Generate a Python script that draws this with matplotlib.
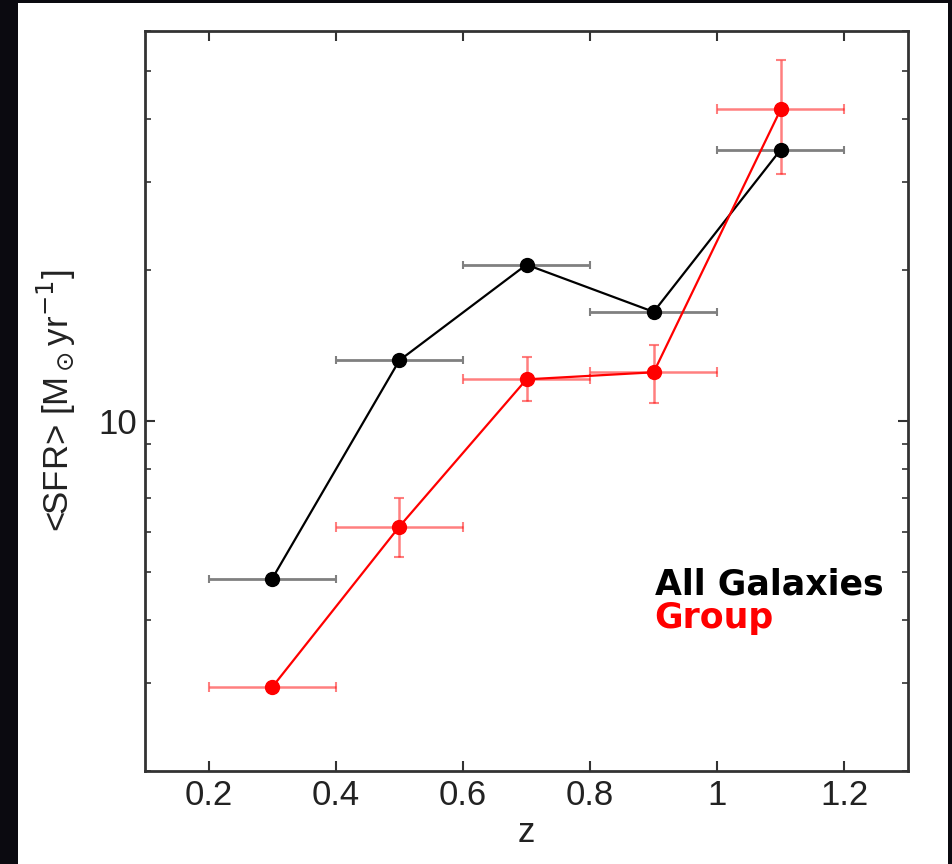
import matplotlib
matplotlib.use("Agg")
import matplotlib.pyplot as plt
from matplotlib import font_manager
from matplotlib.patches import Rectangle
from matplotlib.ticker import LogLocator, NullFormatter, FixedLocator, FixedFormatter

# Data
z = [0.3, 0.5, 0.7, 0.9, 1.1]
z_err = [0.1, 0.1, 0.1, 0.1, 0.1]
sfr_all = [4.84, 13.2, 20.5, 16.5, 34.8]
sfr_group = [2.94, 6.15, 12.1, 12.5, 41.9]
group_lo = [2.94, 5.35, 10.95, 10.85, 31.1]
group_hi = [2.94, 7.02, 13.4, 14.2, 52.5]
xticks = [0.2, 0.4, 0.6, 0.8, 1.0, 1.2]
xticklabels = ["0.2", "0.4", "0.6", "0.8", "1", "1.2"]

names = {f.name for f in font_manager.fontManager.ttflist}
tickfont = "Liberation Sans Narrow" if "Liberation Sans Narrow" in names else "Liberation Sans"

fig = plt.figure(figsize=(9.52, 8.64), dpi=100)
fig.patch.set_facecolor("#0b0a10")
fig.patches.append(Rectangle((18 / 952, 0), (948 - 18) / 952, 1 - 3 / 864,
                             transform=fig.transFigure, facecolor="white",
                             edgecolor="none", zorder=-10))

ax = fig.add_axes([145 / 952, 1 - 771 / 864, (908 - 145) / 952, (771 - 31) / 864])
ax.set_zorder(1)
ax.set_yscale("log")
ax.set_xlim(0.1, 1.3)
ax.set_ylim(2, 60)

# Black series
ax.errorbar(z, sfr_all, xerr=z_err, fmt="none", ecolor="#808080", elinewidth=2.0,
            capsize=3, capthick=1.5, zorder=2)
ax.plot(z, sfr_all, color="black", lw=1.6, marker="o", ms=10, zorder=4)

# Red series
yerr_lo = [s - l for s, l in zip(sfr_group, group_lo)]
yerr_hi = [h - s for s, h in zip(sfr_group, group_hi)]
ax.errorbar(z, sfr_group, xerr=z_err, yerr=[yerr_lo, yerr_hi], fmt="none",
            ecolor=(1, 0, 0, 0.5), elinewidth=1.8, capsize=3.5, capthick=1.5, zorder=3)
ax.plot(z, sfr_group, color="red", lw=1.6, marker="o", ms=10, zorder=5)

# Axes styling
for s in ax.spines.values():
    s.set_linewidth(2.0)
    s.set_color("#333333")

ax.xaxis.set_major_locator(FixedLocator(xticks))
ax.xaxis.set_major_formatter(FixedFormatter(xticklabels))
ax.yaxis.set_major_locator(FixedLocator([10]))
ax.yaxis.set_major_formatter(FixedFormatter(["10"]))
ax.yaxis.set_minor_locator(LogLocator(base=10, subs=range(2, 10)))
ax.yaxis.set_minor_formatter(NullFormatter())
ax.tick_params(which="both", direction="in", top=True, right=True, color="#333333")
ax.tick_params(which="major", length=7, width=1.5, labelsize=25, pad=6)
ax.tick_params(which="minor", length=4, width=1.2)
for lab in ax.get_xticklabels() + ax.get_yticklabels():
    lab.set_family(tickfont)
    lab.set_color("#222222")

ax.set_xlabel("z", fontsize=25, family=tickfont, color="#222222", labelpad=3)
ax.set_ylabel(r"<SFR> [M$_\odot$yr$^{-1}$]", fontsize=25, family=tickfont,
              color="#222222", labelpad=14)

ax.text(0.668, 0.238, "All Galaxies", transform=ax.transAxes, fontsize=25,
        fontweight="bold", family="DejaVu Sans", color="black", va="baseline")
ax.text(0.668, 0.193, "Group", transform=ax.transAxes, fontsize=25,
        fontweight="bold", family="DejaVu Sans", color="red", va="baseline")

fig.savefig("out.png", dpi=100, facecolor=fig.get_facecolor())
